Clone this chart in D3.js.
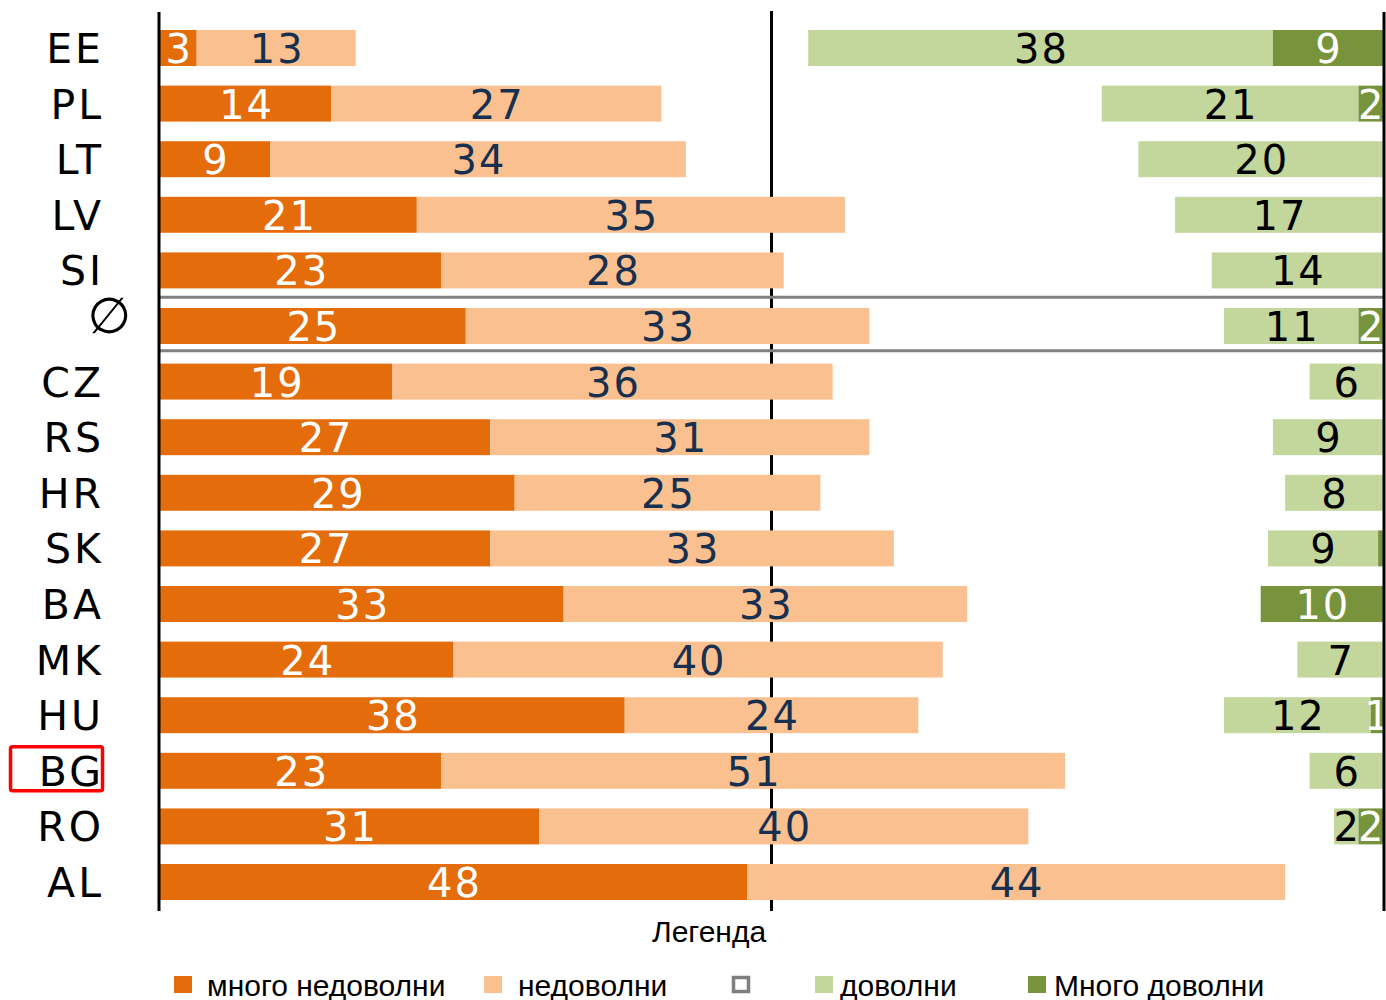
<!DOCTYPE html>
<html>
<head>
<meta charset="utf-8">
<script src="https://d3js.org/d3.v7.min.js"></script>
<style>
  body { margin: 0; background: #fff; }
  .num { font-family: "DejaVu Sans", Verdana, sans-serif; font-size: 40px; letter-spacing: 2px; }
  .cty { font-family: "DejaVu Sans", Verdana, sans-serif; font-size: 41px; letter-spacing: 3px; }
  .leg { font-family: "Liberation Sans Narrow", "Arial Narrow", "Liberation Sans", sans-serif; font-size: 30px; }
</style>
</head>
<body>
<script>
// data
var countries = ['EE','PL','LT','LV','SI','Ø','CZ','RS','HR','SK','BA','MK','HU','BG','RO','AL'];
var veryDissatisfied = [3,14,9,21,23,25,19,27,29,27,33,24,38,23,31,48];
var dissatisfied     = [13,27,34,35,28,33,36,31,25,33,33,40,24,51,40,44];
var satisfied        = [38,21,20,17,14,11,6,9,8,9,0,7,12,6,2,0];
var verySatisfied    = [9,2,0,0,0,2,0,0,0,0.4,10,0,1,0,2,0];
var legendLabels = ['много недоволни','недоволни','','доволни','Много доволни'];
var legendTitle = 'Легенда';
var highlighted = 'BG';

var colors = {vd:'#E46C0A', d:'#FAC090', s:'#C3D69B', vs:'#77933C'};

var width = 1386, height = 1000;
var svg = d3.select('body').append('svg').attr('width', width).attr('height', height);

// 0.1 scales
var x = d3.scaleLinear().domain([0, 100]).range([160, 1383]);
var y = d3.scaleBand().domain(countries).range([20.2, 909.8]).paddingInner(0.353).paddingOuter(0.1765);

// rows as objects
var rows = countries.map(function(c, i){
    return {c:c, vd:veryDissatisfied[i], d:dissatisfied[i], s:satisfied[i], vs:verySatisfied[i]};
});

// 0.2 middle line (behind the bars)
svg.append('line')
    .attr('x1', x(50)).attr('x2', x(50)).attr('y1', 11).attr('y2', 911)
    .attr('stroke', '#000').attr('stroke-width', 3);

// 0.3 segments: dissatisfied from the left, satisfied from the right
var segs = [];
rows.forEach(function(r){
    segs.push({c:r.c, v:r.vd, x0:0, x1:r.vd, fill:colors.vd, txt:'#fff'});
    segs.push({c:r.c, v:r.d, x0:r.vd, x1:r.vd + r.d, fill:colors.d, txt:'#17304F'});
    segs.push({c:r.c, v:r.s, x0:100 - r.vs - r.s, x1:100 - r.vs, fill:colors.s, txt:'#000'});
    segs.push({c:r.c, v:r.vs, x0:100 - r.vs, x1:100, fill:colors.vs, txt:'#fff'});
});

svg.append('g').selectAll('rect')
    .data(segs.filter(function(s){ return s.v > 0; }))
    .join('rect')
    .attr('x', function(s){ return x(s.x0); })
    .attr('width', function(s){ return x(s.x1) - x(s.x0); })
    .attr('y', function(s){ return y(s.c); })
    .attr('height', y.bandwidth())
    .attr('fill', function(s){ return s.fill; });

svg.append('g').selectAll('text')
    .data(segs.filter(function(s){ return s.v >= 1; }))
    .join('text')
    .attr('class', 'num')
    .attr('x', function(s){ return (x(s.x0) + x(s.x1)) / 2 + 1; })
    .attr('y', function(s){ return y(s.c) + y.bandwidth() / 2 + 15; })
    .attr('text-anchor', 'middle')
    .attr('fill', function(s){ return s.txt; })
    .text(function(s){ return Math.round(s.v); });

// 0.4 separators around the average row
var avg = 'Ø';
var gap = (y.step() - y.bandwidth()) / 2;
[y(avg) - gap - 1, y(avg) + y.bandwidth() + gap - 3].forEach(function(yy){
    svg.append('line')
        .attr('x1', x(0)).attr('x2', x(100)).attr('y1', yy).attr('y2', yy)
        .attr('stroke', '#808080').attr('stroke-width', 3);
});

// 0.5 left and right axis lines
[x(0) - 1, x(100) + 1].forEach(function(xx){
    svg.append('line')
        .attr('x1', xx).attr('x2', xx).attr('y1', 12).attr('y2', 911)
        .attr('stroke', '#000').attr('stroke-width', 3);
});

// 0.6 country labels
svg.append('g').selectAll('text')
    .data(countries)
    .join('text')
    .attr('class', 'cty')
    .attr('x', function(c){ return c === avg ? 134 : 104; })
    .attr('y', function(c){ return y(c) + y.bandwidth() / 2 + 15 - (c === avg ? 8 : 0); })
    .attr('text-anchor', 'end')
    .attr('fill', '#000')
    .style('font-size', function(c){ return c === avg ? '50px' : null; })
    .text(function(c){ return c === avg ? '∅' : c; });

// highlight box
svg.append('rect')
    .attr('x', 10.5).attr('y', y(highlighted) - 6)
    .attr('width', 92).attr('height', 44)
    .attr('rx', 2)
    .attr('fill', 'none').attr('stroke', '#FF0000').attr('stroke-width', 3.5);

// 0.7 legend
svg.append('text').attr('class', 'leg')
    .attr('x', 652).attr('y', 942).attr('fill', '#000')
    .text(legendTitle);

var legX = [174, 484, 732, 815, 1028];
var legFill = [colors.vd, colors.d, 'none', colors.s, colors.vs];
var legG = svg.append('g').selectAll('g')
    .data(legendLabels)
    .join('g')
    .attr('transform', function(d, i){ return 'translate(' + legX[i] + ',976)'; });
legG.append('rect')
    .attr('x', function(d, i){ return i === 2 ? 1.5 : 0; })
    .attr('y', function(d, i){ return i === 2 ? 1.5 : 0; })
    .attr('width', function(d, i){ return i === 2 ? 15 : 18; })
    .attr('height', function(d, i){ return i === 2 ? 14 : 17; })
    .attr('fill', function(d, i){ return legFill[i]; })
    .attr('stroke', function(d, i){ return i === 2 ? '#7F7F7F' : 'none'; })
    .attr('stroke-width', 3.5);
legG.append('text').attr('class', 'leg')
    .attr('x', function(d, i){ return i === 3 ? 25 : (i === 4 ? 26 : (i === 1 ? 34 : 33)); })
    .attr('y', 20)
    .attr('fill', '#000')
    .text(function(d){ return d; });
</script>
</body>
</html>
